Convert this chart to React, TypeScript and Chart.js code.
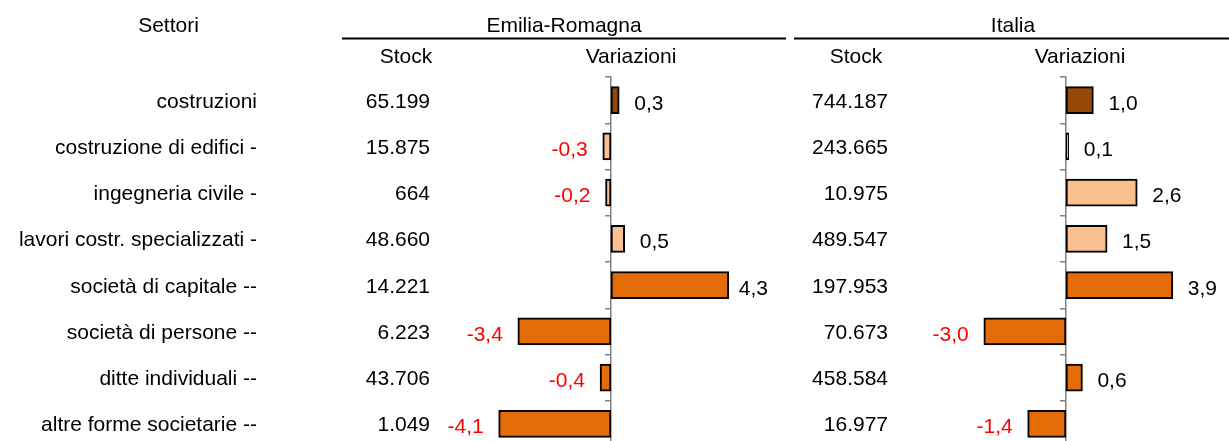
import React, { useEffect, useRef } from 'react';
import { Chart, registerables } from 'chart.js';

Chart.register(...registerables);

// ---- data ----
const categories = [
  'costruzioni',
  'costruzione di edifici -',
  'ingegneria civile -',
  'lavori costr. specializzati -',
  'società di capitale --',
  'società di persone --',
  'ditte individuali --',
  'altre forme societarie --',
];
const stockER = [65199, 15875, 664, 48660, 14221, 6223, 43706, 1049];
const varER = [0.3, -0.3, -0.2, 0.5, 4.3, -3.4, -0.4, -4.1];
const stockIT = [744187, 243665, 10975, 489547, 197953, 70673, 458584, 16977];
const varIT = [1.0, 0.1, 2.6, 1.5, 3.9, -3.0, 0.6, -1.4];
const rowHeader = 'Settori';
const groupHeaders = ['Emilia-Romagna', 'Italia'];
const columnHeaders = ['Stock', 'Variazioni'];
const barColors = ['#974806', '#FAC090', '#FAC090', '#FAC090', '#E36C09', '#E36C09', '#E36C09', '#E36C09'];

// ---- layout ----
const W = 1229;
const H = 447;
const PX_PER_UNIT = 27.4;
const ER_ZERO = 611;
const IT_ZERO = 1066;
const FONT = '21px "Liberation Sans", Arial, sans-serif';

const fmtInt = (n: number) => String(n).replace(/\B(?=(\d{3})+(?!\d))/g, '.');
const fmtVar = (v: number) => v.toFixed(1).replace('.', ',');

const tablePlugin = {
  id: 'tableText',
  afterDraw(chart: any) {
    const ctx: CanvasRenderingContext2D = chart.ctx;
    const yScale = chart.scales.y;
    ctx.save();
    ctx.font = FONT;
    ctx.textBaseline = 'alphabetic';
    ctx.fillStyle = '#000';

    // headers
    ctx.textAlign = 'center';
    ctx.fillText(rowHeader, 168.5, 31.5);
    ctx.fillText(groupHeaders[0], 564, 31.5);
    ctx.fillText(groupHeaders[1], 1013, 31.5);
    ctx.fillText(columnHeaders[0], 406, 63);
    ctx.fillText(columnHeaders[1], 631, 63);
    ctx.fillText(columnHeaders[0], 856, 63);
    ctx.fillText(columnHeaders[1], 1080, 63);

    ctx.strokeStyle = '#000';
    ctx.lineWidth = 2;
    ctx.beginPath();
    ctx.moveTo(342, 38.5);
    ctx.lineTo(786, 38.5);
    ctx.moveTo(794, 38.5);
    ctx.lineTo(W, 38.5);
    ctx.stroke();

    // rows
    categories.forEach((c, i) => {
      const py = yScale.getPixelForValue(i) + 7.5;
      ctx.textAlign = 'right';
      ctx.fillStyle = '#000';
      ctx.fillText(c, 257, py);
      ctx.fillText(fmtInt(stockER[i]), 430, py);
      ctx.fillText(fmtInt(stockIT[i]), 888, py);
    });

    // value labels
    const panelRight = [768, W];
    chart.data.datasets.forEach((ds: any, di: number) => {
      const meta = chart.getDatasetMeta(di);
      meta.data.forEach((el: any, i: number) => {
        const v = ds.data[i] as number;
        const { x, base, y } = el.getProps(['x', 'base', 'y'], true);
        const ty = y + 9.5;
        const txt = fmtVar(v);
        if (v >= 0) {
          const w = ctx.measureText(txt).width;
          ctx.textAlign = 'left';
          ctx.fillStyle = '#000';
          const tx = Math.min(Math.max(x, base) + 15, panelRight[di] - w);
          ctx.fillText(txt, tx, ty);
        } else {
          ctx.textAlign = 'right';
          ctx.fillStyle = '#FF0000';
          ctx.fillText(txt, Math.min(x, base) - 15, ty);
        }
      });
    });
    ctx.restore();
  },
};

const yAxis = (zeroAxis: string) => ({
  type: 'category',
  position: { [zeroAxis]: 0 },
  offset: true,
  z: 1,
  grid: {
    offset: true,
    drawOnChartArea: false,
    drawTicks: true,
    tickLength: 5,
    color: '#808080',
    lineWidth: 1.5,
  },
  border: { display: true, color: '#808080', width: 1.5 },
  ticks: { display: false },
});

export default function App() {
  const ref = useRef<HTMLCanvasElement>(null);
  useEffect(() => {
    document.body.style.margin = '0';
    const chart = new Chart(ref.current as HTMLCanvasElement, {
      type: 'bar',
      data: {
        labels: categories,
        datasets: [
          {
            label: 'Emilia-Romagna',
            data: varER,
            xAxisID: 'x',
            yAxisID: 'y',
            backgroundColor: barColors,
            borderColor: '#000',
            borderWidth: 2,
            borderSkipped: false,
            barThickness: 27,
            grouped: false,
          },
          {
            label: 'Italia',
            data: varIT,
            xAxisID: 'x2',
            yAxisID: 'y2',
            backgroundColor: barColors,
            borderColor: '#000',
            borderWidth: 2,
            borderSkipped: false,
            barThickness: 27,
            grouped: false,
          },
        ],
      } as any,
      options: {
        indexAxis: 'y',
        responsive: false,
        animation: false,
        layout: { padding: { top: 77, bottom: 0, left: 0, right: 0 } },
        plugins: { legend: { display: false }, tooltip: { enabled: false }, title: { display: false } },
        scales: {
          x: { type: 'linear', display: false, min: -ER_ZERO / PX_PER_UNIT, max: (W - ER_ZERO) / PX_PER_UNIT },
          x2: { type: 'linear', display: false, min: -IT_ZERO / PX_PER_UNIT, max: (W - IT_ZERO) / PX_PER_UNIT },
          y: yAxis('x'),
          y2: yAxis('x2'),
        },
      } as any,
      plugins: [tablePlugin],
    });
    return () => chart.destroy();
  }, []);
  return (
    <div style={{ position: 'absolute', left: 0, top: 0, width: W, height: 441, overflow: 'hidden', background: '#fff' }}>
      <canvas ref={ref} width={W} height={H} style={{ display: 'block' }} />
    </div>
  );
}
